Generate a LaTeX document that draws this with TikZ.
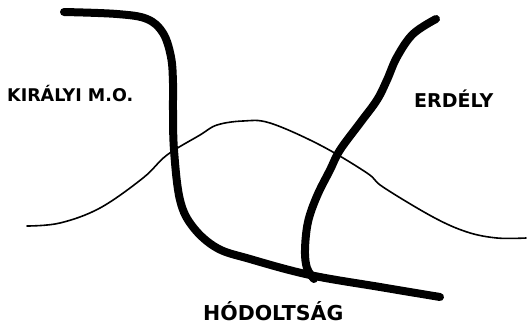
\documentclass[tikz,border=0pt]{standalone}
\usepackage{fontspec}
\setmainfont{DejaVu Sans}
\begin{document}
\begin{tikzpicture}[x=1pt,y=-1pt,
  thinline/.style={line width=1.6pt, line cap=round, line join=round},
  thickline/.style={line width=8pt, line cap=round, line join=round},
  label/.style={font=\bfseries\fontsize{17.5}{17.5}\selectfont, inner sep=0pt, anchor=west}]
\useasboundingbox (0,0) rectangle (528,325);
% thin curve
\draw[thinline] plot[smooth, tension=0.6] coordinates {(27,226) (60,223) (100,208) (143,178) (167,155) (200,135) (217,125) (243,121) (270,123) (320,145) (367,173) (383,187) (433,217) (467,232) (497,238) (526,238)};
% left thick curve
\draw[thickline] plot[smooth, tension=0.6] coordinates {(64,12) (117,14) (147,19) (163,33) (171,57) (173,83) (173,110) (174,150) (180,200) (193,227) (217,248) (250,259) (310,275) (380,287) (440,297)};
% right thick curve
\draw[thickline] plot[smooth, tension=0.6] coordinates {(436,19) (413,34) (397,57) (387,80) (377,100) (360,123) (340,150) (330,170) (317,196) (308,222) (305,250) (307,268) (314,279)};
% labels
\node[label] (kir) at (7,94) {KIRÁLYI M.O.};
\node[label, font=\bfseries\fontsize{19}{19}\selectfont] (erd) at (414,99) {ERDÉLY};
\node[label, font=\bfseries\fontsize{20.5}{20.5}\selectfont] (hod) at (203,311) {HÓDOLTSÁG};
\end{tikzpicture}
\end{document}
